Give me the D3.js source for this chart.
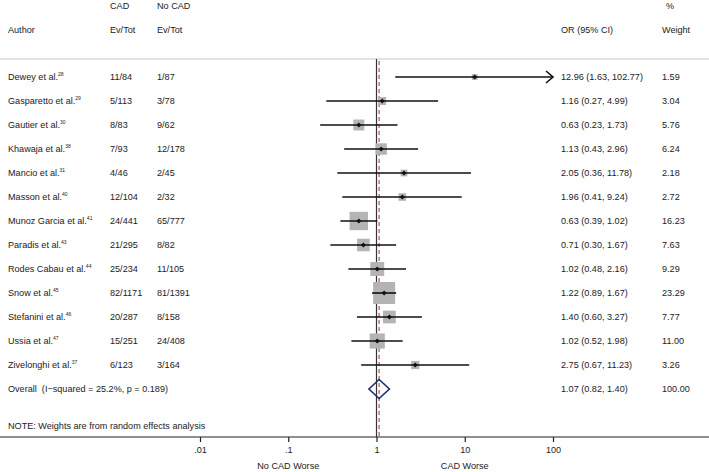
<!DOCTYPE html>
<html><head><meta charset="utf-8">
<script src="https://cdn.jsdelivr.net/npm/d3@7"></script>
<style>body{margin:0;background:#fff}svg{display:block}text{font-family:"Liberation Sans",Arial,sans-serif;fill:#222}</style>
</head><body><svg id="c" width="709" height="472"></svg>
<script>
const authors = ["Dewey et al.","Gasparetto et al.","Gautier et al.","Khawaja et al.","Mancio et al.","Masson et al.","Munoz Garcia et al.","Paradis et al.","Rodes Cabau et al.","Snow et al.","Stefanini et al.","Ussia et al.","Zivelonghi et al."];
const refs = ["28","29","30","38","31","40","41","43","44","45","46","47","37"];
const cadEvTot = ["11/84","5/113","8/83","7/93","4/46","12/104","24/441","21/295","25/234","82/1171","20/287","15/251","6/123"];
const noCadEvTot = ["1/87","3/78","9/62","12/178","2/45","2/32","65/777","8/82","11/105","81/1391","8/158","24/408","3/164"];
const orVals = [12.96,1.16,0.63,1.13,2.05,1.96,0.63,0.71,1.02,1.22,1.40,1.02,2.75];
const ciLow = [1.63,0.27,0.23,0.43,0.36,0.41,0.39,0.30,0.48,0.89,0.60,0.52,0.67];
const ciHigh = [102.77,4.99,1.73,2.96,11.78,9.24,1.02,1.67,2.16,1.67,3.27,1.98,11.23];
const weights = [1.59,3.04,5.76,6.24,2.18,2.72,16.23,7.63,9.29,23.29,7.77,11.00,3.26];
const overall = {or:1.07, lo:0.82, hi:1.40, weight:100.00, label:"Overall  (I\u2212squared = 25.2%, p = 0.189)"};
const tickVals = [0.01,0.1,1,10,100];
const tickLabels = [".01",".1","1","10","100"];

const svg = d3.select("#c");
const fs = 9.1;
const x = d3.scaleLog().domain([0.01,100]).range([200,553]);
const y = d3.scaleLinear().domain([0,13]).range([77,389]);
const fmt = d3.format(".2f");

// header
const hdr = svg.append("g").attr("font-size",fs);
hdr.append("text").attr("x",110).attr("y",9).text("CAD");
hdr.append("text").attr("x",157).attr("y",9).text("No CAD");
hdr.append("text").attr("x",8).attr("y",33).text("Author");
hdr.append("text").attr("x",110).attr("y",33).text("Ev/Tot");
hdr.append("text").attr("x",157).attr("y",33).text("Ev/Tot");
hdr.append("text").attr("x",561).attr("y",33).text("OR (95% CI)");
hdr.append("text").attr("x",666).attr("y",9).text("%");
hdr.append("text").attr("x",662).attr("y",33).text("Weight");
svg.append("line").attr("x1",0).attr("x2",709).attr("y1",59).attr("y2",59).attr("stroke","#c8c8c8").attr("stroke-width",1.2);

// reference lines
svg.append("line").attr("x1",x(1)).attr("x2",x(1)).attr("y1",59).attr("y2",437).attr("stroke","#333").attr("stroke-width",1.2);
svg.append("line").attr("x1",x(overall.or)).attr("x2",x(overall.or)).attr("y1",61).attr("y2",437).attr("stroke","#a0303a").attr("stroke-width",1).attr("stroke-dasharray","4,3");

// rows
const rows = svg.append("g");
authors.forEach((a,i)=>{
  const yy = y(i);
  const t = rows.append("text").attr("x",8).attr("y",yy+3.2).attr("font-size",fs).text(a);
  t.append("tspan").attr("dy",-4).attr("font-size",5).text(refs[i]);
  rows.append("text").attr("x",110).attr("y",yy+3.2).attr("font-size",fs).text(cadEvTot[i]);
  rows.append("text").attr("x",157).attr("y",yy+3.2).attr("font-size",fs).text(noCadEvTot[i]);
  rows.append("text").attr("x",561).attr("y",yy+3.2).attr("font-size",fs).text(`${fmt(orVals[i])} (${fmt(ciLow[i])}, ${fmt(ciHigh[i])})`);
  rows.append("text").attr("x",662).attr("y",yy+3.2).attr("font-size",fs).text(fmt(weights[i]));
  // box
  const s = 4.56*Math.sqrt(weights[i]);
  rows.append("rect").attr("x",x(orVals[i])-s/2).attr("y",yy-s/2).attr("width",s).attr("height",s).attr("fill","#b4b4b4");
  // CI
  const hiC = Math.min(ciHigh[i],100), loC = Math.max(ciLow[i],0.01);
  rows.append("line").attr("x1",x(loC)).attr("x2",x(hiC)).attr("y1",yy).attr("y2",yy).attr("stroke","#111").attr("stroke-width",1.6);
  if (ciHigh[i] > 100) {
    const xe = x(100);
    rows.append("path").attr("d",`M${xe-7},${yy-6}L${xe},${yy}L${xe-7},${yy+6}`).attr("fill","none").attr("stroke","#111").attr("stroke-width",1.6);
  }
  const xp = x(orVals[i]);
  rows.append("path").attr("d",`M${xp},${yy-2.5}L${xp+2.5},${yy}L${xp},${yy+2.5}L${xp-2.5},${yy}Z`).attr("fill","#111");
});

// overall
const yo = y(13);
svg.append("text").attr("x",8).attr("y",yo+3.2).attr("font-size",fs).attr("xml:space","preserve").style("white-space","pre").text(overall.label);
svg.append("text").attr("x",561).attr("y",yo+3.2).attr("font-size",fs).text(`${fmt(overall.or)} (${fmt(overall.lo)}, ${fmt(overall.hi)})`);
svg.append("text").attr("x",662).attr("y",yo+3.2).attr("font-size",fs).text(fmt(overall.weight));
svg.append("path").attr("d",`M${x(overall.lo)},${yo}L${x(overall.or)},${yo-9.5}L${x(overall.hi)},${yo}L${x(overall.or)},${yo+9.5}Z`).attr("fill","none").attr("stroke","#1f2a78").attr("stroke-width",1.6);

svg.append("text").attr("x",8).attr("y",429).attr("font-size",fs).text("NOTE: Weights are from random effects analysis");

// axis
const axis = d3.axisBottom(x).tickValues(tickVals).tickFormat((d,i)=>tickLabels[i]).tickSize(5).tickSizeOuter(0);
const ag = svg.append("g").attr("transform","translate(0,437)").call(axis);
ag.select(".domain").remove();
ag.selectAll(".tick line").attr("stroke","#222").attr("stroke-width",1.2);
ag.selectAll(".tick text").attr("font-size",fs).attr("font-family","Liberation Sans, Arial, sans-serif").attr("fill","#222").attr("dy","0.9em");
svg.append("line").attr("x1",0).attr("x2",709).attr("y1",437).attr("y2",437).attr("stroke","#222").attr("stroke-width",1.2);
svg.append("text").attr("x",x(0.1)).attr("y",469).attr("text-anchor","middle").attr("font-size",fs).text("No CAD Worse");
svg.append("text").attr("x",x(10)).attr("y",469).attr("text-anchor","middle").attr("font-size",fs).text("CAD Worse");
</script></body></html>
